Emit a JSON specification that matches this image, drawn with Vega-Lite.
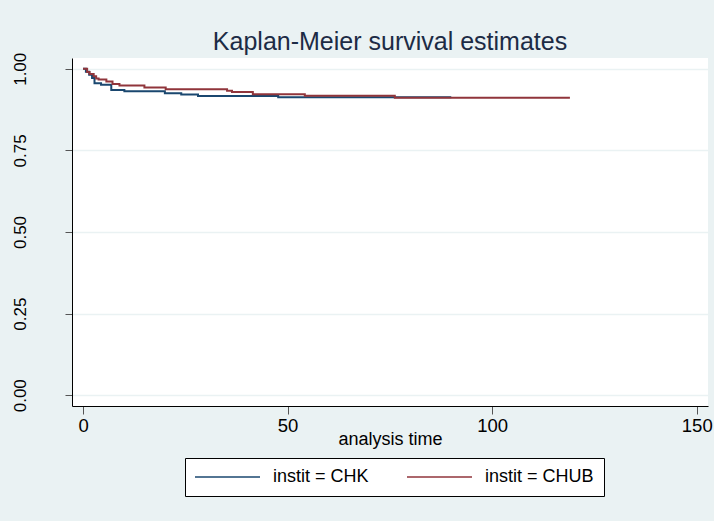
{
  "$schema": "https://vega.github.io/schema/vega-lite/v6.json",
  "width": 636,
  "height": 348,
  "autosize": {"type": "none"},
  "padding": {"left": 72, "top": 58, "right": 6, "bottom": 115},
  "background": "#EAF2F3",
  "config": {
    "font": "Liberation Sans",
    "view": {"fill": "white", "stroke": null}
  },
  "title": {
    "text": "Kaplan-Meier survival estimates",
    "fontSize": 25,
    "fontWeight": "normal",
    "color": "#1c2b45",
    "anchor": "middle",
    "frame": "group",
    "baseline": "alphabetic",
    "offset": -23
  },
  "data": {
    "values": [
      {"group": "instit = CHK", "time": 0, "survival": 1.0},
      {"group": "instit = CHK", "time": 0.7, "survival": 0.991},
      {"group": "instit = CHK", "time": 1.5, "survival": 0.982},
      {"group": "instit = CHK", "time": 2.2, "survival": 0.972},
      {"group": "instit = CHK", "time": 2.8, "survival": 0.956},
      {"group": "instit = CHK", "time": 4.4, "survival": 0.951},
      {"group": "instit = CHK", "time": 6.9, "survival": 0.935},
      {"group": "instit = CHK", "time": 10.1, "survival": 0.931},
      {"group": "instit = CHK", "time": 20.0, "survival": 0.925},
      {"group": "instit = CHK", "time": 24.0, "survival": 0.921},
      {"group": "instit = CHK", "time": 28.1, "survival": 0.9165},
      {"group": "instit = CHK", "time": 47.7, "survival": 0.913},
      {"group": "instit = CHK", "time": 90.0, "survival": 0.913},
      {"group": "instit = CHUB", "time": 0, "survival": 1.0},
      {"group": "instit = CHUB", "time": 1.0, "survival": 0.99},
      {"group": "instit = CHUB", "time": 1.6, "survival": 0.984},
      {"group": "instit = CHUB", "time": 2.6, "survival": 0.977},
      {"group": "instit = CHUB", "time": 3.2, "survival": 0.97},
      {"group": "instit = CHUB", "time": 3.8, "survival": 0.967},
      {"group": "instit = CHUB", "time": 5.7, "survival": 0.961},
      {"group": "instit = CHUB", "time": 7.2, "survival": 0.953},
      {"group": "instit = CHUB", "time": 8.9, "survival": 0.949},
      {"group": "instit = CHUB", "time": 15.0, "survival": 0.943},
      {"group": "instit = CHUB", "time": 20.2, "survival": 0.937},
      {"group": "instit = CHUB", "time": 35.2, "survival": 0.933},
      {"group": "instit = CHUB", "time": 36.4, "survival": 0.929},
      {"group": "instit = CHUB", "time": 41.5, "survival": 0.922},
      {"group": "instit = CHUB", "time": 54.2, "survival": 0.9176},
      {"group": "instit = CHUB", "time": 76.2, "survival": 0.911},
      {"group": "instit = CHUB", "time": 119.0, "survival": 0.911}
    ]
  },
  "mark": {"type": "line", "interpolate": "step-after", "strokeWidth": 2},
  "encoding": {
    "x": {
      "field": "time",
      "type": "quantitative",
      "scale": {"domain": [-2.7, 152.75], "nice": false, "zero": false},
      "axis": {
        "values": [0, 50, 100, 150],
        "title": "analysis time",
        "grid": false,
        "domainColor": "black",
        "domainWidth": 1,
        "tickColor": "#555555",
        "tickSize": 8,
        "labelFontSize": 18.5,
        "labelColor": "black",
        "labelPadding": 2,
        "titleFontSize": 18,
        "titleFontWeight": "normal",
        "titleColor": "black",
        "titlePadding": -4
      }
    },
    "y": {
      "field": "survival",
      "type": "quantitative",
      "scale": {"domain": [-0.033, 1.033], "nice": false, "zero": false},
      "axis": {
        "values": [0, 0.25, 0.5, 0.75, 1],
        "format": ".2f",
        "title": null,
        "grid": true,
        "gridColor": "#EAF2F3",
        "gridWidth": 1.5,
        "domainColor": "black",
        "domainWidth": 1,
        "tickColor": "#555555",
        "tickSize": 7,
        "labelFontSize": 17,
        "labelAngle": -90,
        "labelAlign": "center",
        "labelBaseline": "alphabetic",
        "labelPadding": 40,
        "labelColor": "black"
      }
    },
    "color": {
      "field": "group",
      "type": "nominal",
      "scale": {"domain": ["instit = CHK", "instit = CHUB"], "range": ["#1A476F", "#90353B"]},
      "legend": {
        "title": null,
        "orient": "none",
        "legendX": 113,
        "legendY": 400,
        "direction": "horizontal",
        "symbolType": "M-1.385,0H8.615",
        "symbolSize": 169,
        "symbolStrokeWidth": 1.5,
        "labelOffset": 60,
        "labelFontSize": 18,
        "labelColor": "black",
        "labelLimit": 300,
        "fillColor": "white",
        "strokeColor": "black",
        "padding": 10,
        "columnPadding": 34
      }
    }
  }
}
